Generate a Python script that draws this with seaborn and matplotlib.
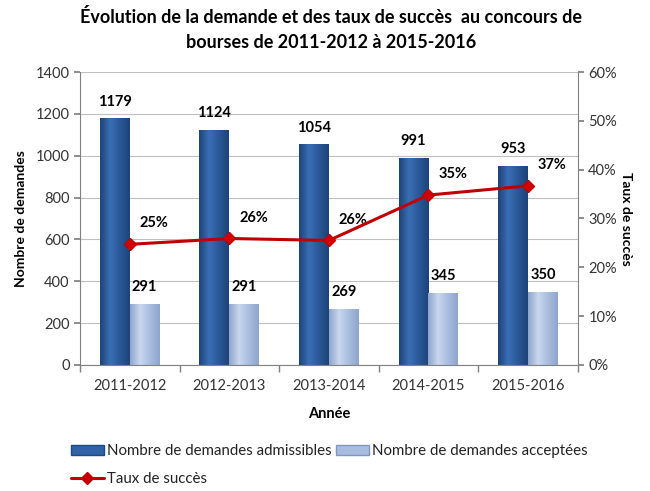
import numpy as np
import pandas as pd
import matplotlib
matplotlib.use("Agg")
import matplotlib.pyplot as plt
import seaborn as sns
from matplotlib.ticker import PercentFormatter
from matplotlib.lines import Line2D
from matplotlib.patches import Patch
from matplotlib.colors import LinearSegmentedColormap

annees = ["2011-2012", "2012-2013", "2013-2014", "2014-2015", "2015-2016"]
admissibles = [1179, 1124, 1054, 991, 953]
acceptees = [291, 291, 269, 345, 350]
taux = [24.7, 25.9, 25.5, 34.8, 36.7]
taux_labels = ["25%", "26%", "26%", "35%", "37%"]

sns.set_theme(style="white")
plt.rcParams['font.family'] = ['Lato', 'DejaVu Sans']

df = pd.DataFrame({
    "Année": annees * 2,
    "valeur": admissibles + acceptees,
    "serie": ["Nombre de demandes admissibles"] * 5 + ["Nombre de demandes acceptées"] * 5,
})

dark = "#2F62A6"
light = "#A7BCDF"

fig = plt.figure(figsize=(6.5, 4.91), dpi=100)
ax = fig.add_axes([0.123, 0.257, 0.766, 0.596])
sns.barplot(data=df, x="Année", y="valeur", hue="serie", palette=[dark, light],
            width=0.6, ax=ax, legend=False, edgecolor="none", saturation=1)

ax.set_ylim(0, 1400)
ax.set_xlim(-0.5, 4.5)

# gradient shading for the bars (cylinder-like look)
cm_dark = LinearSegmentedColormap.from_list("d", ["#1E4378", "#3A6FB5", "#2A5898", "#1E4378"])
cm_light = LinearSegmentedColormap.from_list("l", ["#8EA5CC", "#C9D7EE", "#A9BDDF", "#8EA5CC"])
grad = np.linspace(0, 1, 64).reshape(1, -1)
for cont, cmap in zip(ax.containers, [cm_dark, cm_light]):
    for p in cont.patches:
        x0, y0 = p.get_x(), p.get_y()
        w, h = p.get_width(), p.get_height()
        im = ax.imshow(grad, cmap=cmap, aspect="auto", extent=[x0, x0 + w, y0, y0 + h],
                       zorder=p.get_zorder() + 0.1, interpolation="bicubic")
        im.set_clip_path(p)
ax.set_xlim(-0.5, 4.5)
ax.set_ylim(0, 1400)

ax.set_yticks(range(0, 1401, 200))
ax.yaxis.grid(True, color="#BFBFBF", linewidth=0.8)
ax.set_axisbelow(True)
for s in ["top", "right"]:
    ax.spines[s].set_visible(False)
for s in ["left", "bottom"]:
    ax.spines[s].set_color("#808080")
    ax.spines[s].set_linewidth(0.8)
ax.set_xticks(np.arange(-0.5, 5, 1), minor=True)
ax.tick_params(axis="x", which="minor", length=5, color="#808080", bottom=True)
ax.tick_params(axis="x", which="major", length=0, labelsize=10.5, pad=10, labelcolor="#333333")
ax.tick_params(axis="y", length=4, color="#808080", labelsize=10.5, left=True, labelcolor="#333333")
ax.set_xlabel("Année", fontsize=10.5, fontweight="bold", labelpad=10, color="black")
ax.set_ylabel("Nombre de demandes", fontsize=10, fontweight="bold", labelpad=6, color="black")

for cont in ax.containers:
    ax.bar_label(cont, fmt="%d", fontsize=10.5, fontweight="bold", padding=7, color="black")

ax2 = ax.twinx()
ax2.plot(range(5), taux, color="#C00000", linewidth=2.2, marker="D", markersize=6,
         markerfacecolor="#D00000", markeredgecolor="#C00000", zorder=5)
ax2.set_ylim(0, 60)
ax2.set_yticks(range(0, 61, 10))
ax2.yaxis.set_major_formatter(PercentFormatter(decimals=0))
ax2.tick_params(axis="y", length=4, color="#808080", labelsize=10.5, right=True, labelcolor="#333333")
for s in ["top", "left", "bottom"]:
    ax2.spines[s].set_visible(False)
ax2.spines["right"].set_color("#808080")
ax2.spines["right"].set_linewidth(0.8)
ax2.set_ylabel("Taux de succès", fontsize=10, fontweight="bold", rotation=-90, labelpad=11, color="black")
for i, (v, lab) in enumerate(zip(taux, taux_labels)):
    ax2.annotate(lab, (i, v), xytext=(7, 10), textcoords="offset points",
                 fontsize=10.5, fontweight="bold", ha="left", va="bottom", color="black")

fig.suptitle("Évolution de la demande et des taux de succès  au concours de\nbourses de 2011-2012 à 2015-2016",
             fontsize=13, fontweight="bold", x=0.51, y=0.983, color="black", linespacing=1.55)

handles = [Patch(facecolor=dark, edgecolor="#1F4A80"),
           Line2D([0], [0], color="#C00000", lw=2.2, marker="D", markersize=6),
           Patch(facecolor=light, edgecolor="#7F97C0")]
labels = ["Nombre de demandes admissibles", "Taux de succès", "Nombre de demandes acceptées"]
fig.legend(handles, labels, loc="lower left", bbox_to_anchor=(0.088, -0.018), ncol=2,
           frameon=False, fontsize=10.8, handlelength=2.2, handletextpad=0.2,
           columnspacing=0.3, labelspacing=0.95, labelcolor="#222222")

fig.savefig("out.png", dpi=100)
